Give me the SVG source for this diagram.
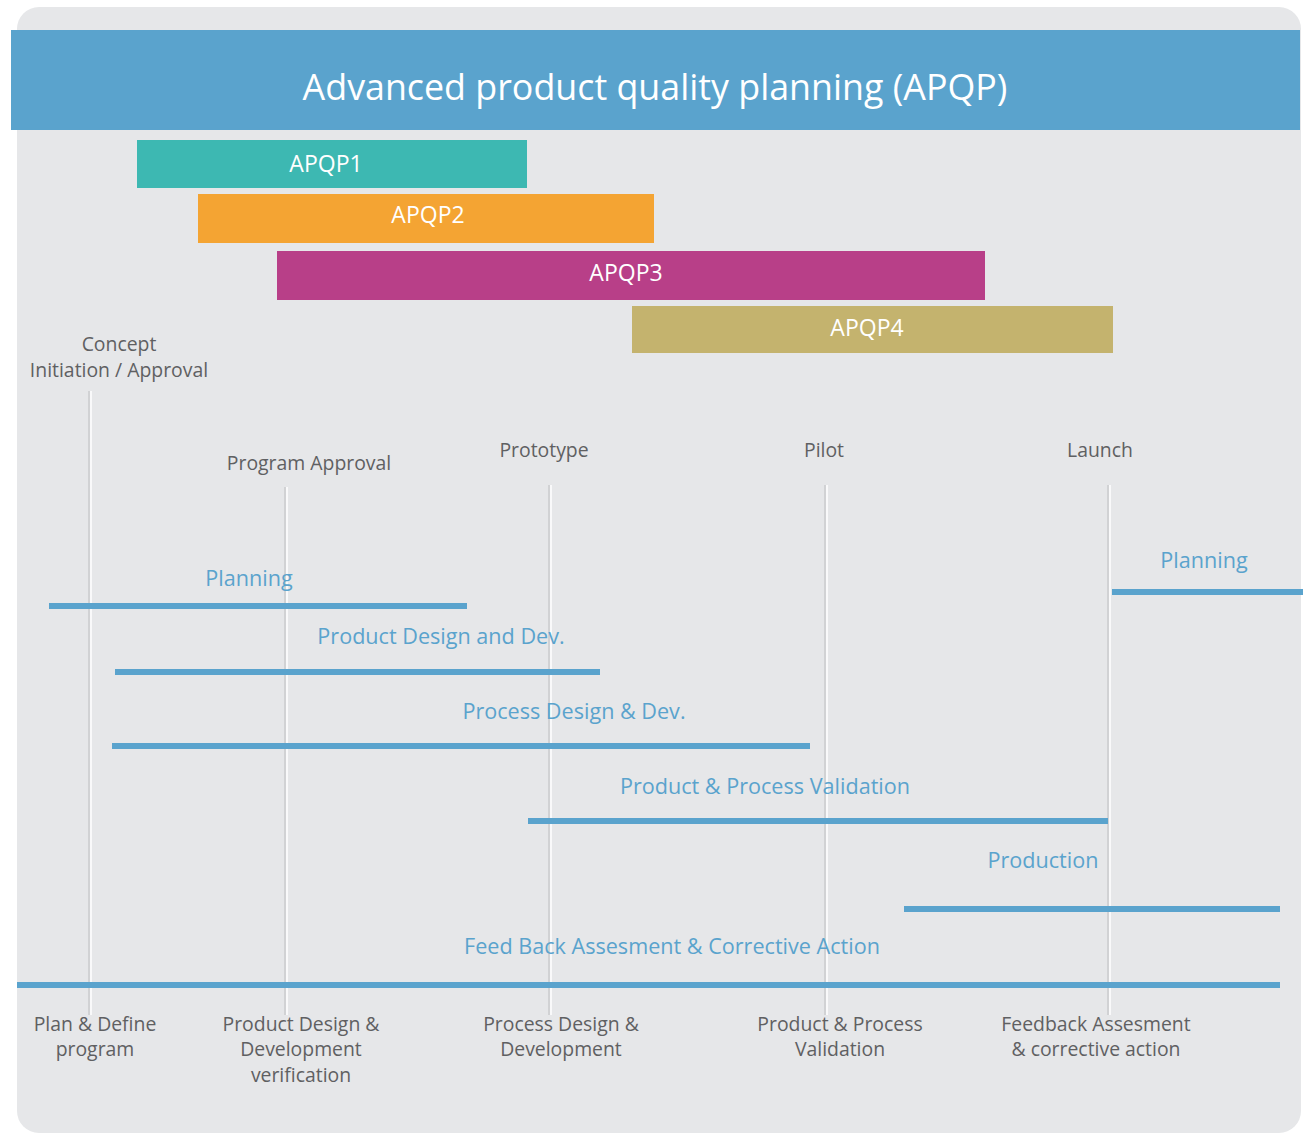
<svg xmlns="http://www.w3.org/2000/svg" width="1303" height="1133" viewBox="0 0 1303 1133">
  <defs>
    <style>
      text { font-family: "Open Sans", "Noto Sans", "Liberation Sans", sans-serif; text-anchor: middle; }
      .title { fill: #ffffff; font-size: 35.8px; }
      .phase { fill: #ffffff; font-size: 23px; }
      .gate { fill: #5f6062; font-size: 19.4px; }
      .stage { fill: #5aa3cd; font-size: 21.6px; }
      .axis { fill: #5f6062; font-size: 19.4px; }
      .tick { stroke: #d1d2d4; stroke-width: 2; }
      .tick-hi { stroke: #ffffff; stroke-width: 1.5; }
      .span { stroke: #5aa3cd; stroke-width: 6; }
    </style>
  </defs>

  <!-- panel -->
  <rect x="17" y="7" width="1284" height="1126" rx="22" fill="#e6e7e9"/>

  <!-- header band -->
  <g id="header">
    <rect x="11" y="30" width="1289" height="100" fill="#5aa3cd"/>
    <text class="title" x="655" y="100">Advanced product quality planning (APQP)</text>
  </g>

  <!-- phase bars -->
  <g id="apqp1">
    <rect x="137" y="140" width="390" height="48" fill="#3db8b2"/>
    <text class="phase" x="326" y="172">APQP1</text>
  </g>
  <g id="apqp2">
    <rect x="198" y="194" width="456" height="49" fill="#f4a433"/>
    <text class="phase" x="428" y="223">APQP2</text>
  </g>
  <g id="apqp3">
    <rect x="277" y="251" width="708" height="49" fill="#b83f88"/>
    <text class="phase" x="626" y="281">APQP3</text>
  </g>
  <g id="apqp4">
    <rect x="632" y="306" width="481" height="47" fill="#c4b36e"/>
    <text class="phase" x="867" y="336">APQP4</text>
  </g>

  <!-- milestone gates -->
  <g id="gate-concept">
    <text class="gate" x="119" y="351">Concept</text>
    <text class="gate" x="119" y="377">Initiation / Approval</text>
  </g>
  <g id="gate-program">
    <text class="gate" x="309" y="470">Program Approval</text>
  </g>
  <g id="gate-prototype">
    <text class="gate" x="544" y="457">Prototype</text>
  </g>
  <g id="gate-pilot">
    <text class="gate" x="824" y="457">Pilot</text>
  </g>
  <g id="gate-launch">
    <text class="gate" x="1100" y="457">Launch</text>
  </g>

  <!-- connectors: gate ticks and stage spans -->
  <g id="connectors">
    <line class="tick" x1="89" y1="391" x2="89" y2="1015"/>
    <line class="tick-hi" x1="91" y1="391" x2="91" y2="1015"/>
    <line class="tick" x1="285" y1="487" x2="285" y2="1015"/>
    <line class="tick-hi" x1="287" y1="487" x2="287" y2="1015"/>
    <line class="tick" x1="549" y1="485" x2="549" y2="1015"/>
    <line class="tick-hi" x1="551" y1="485" x2="551" y2="1015"/>
    <line class="tick" x1="825" y1="485" x2="825" y2="1015"/>
    <line class="tick-hi" x1="827" y1="485" x2="827" y2="1015"/>
    <line class="tick" x1="1108" y1="485" x2="1108" y2="1015"/>
    <line class="tick-hi" x1="1110" y1="485" x2="1110" y2="1015"/>

    <line class="span" x1="49" y1="606" x2="467" y2="606"/>
    <line class="span" x1="115" y1="672" x2="600" y2="672"/>
    <line class="span" x1="112" y1="746" x2="810" y2="746"/>
    <line class="span" x1="528" y1="821" x2="1108" y2="821"/>
    <line class="span" x1="904" y1="909" x2="1280" y2="909"/>
    <line class="span" x1="17" y1="985" x2="1280" y2="985"/>
    <line class="span" x1="1112" y1="592" x2="1303" y2="592"/>
  </g>

  <!-- stage labels -->
  <g id="stage-planning">
    <text class="stage" x="249" y="586">Planning</text>
  </g>
  <g id="stage-product-design">
    <text class="stage" x="441" y="644">Product Design and Dev.</text>
  </g>
  <g id="stage-process-design">
    <text class="stage" x="574" y="719">Process Design &amp; Dev.</text>
  </g>
  <g id="stage-validation">
    <text class="stage" x="765" y="794">Product &amp; Process Validation</text>
  </g>
  <g id="stage-production">
    <text class="stage" x="1043" y="868">Production</text>
  </g>
  <g id="stage-feedback">
    <text class="stage" x="672" y="954">Feed Back Assesment &amp; Corrective Action</text>
  </g>
  <g id="stage-planning-next">
    <text class="stage" x="1204" y="568">Planning</text>
  </g>

  <!-- phase axis labels -->
  <g id="axis-plan">
    <text class="axis" x="95" y="1031">Plan &amp; Define</text>
    <text class="axis" x="95" y="1056">program</text>
  </g>
  <g id="axis-product">
    <text class="axis" x="301" y="1031">Product Design &amp;</text>
    <text class="axis" x="301" y="1056">Development</text>
    <text class="axis" x="301" y="1082">verification</text>
  </g>
  <g id="axis-process">
    <text class="axis" x="561" y="1031">Process Design &amp;</text>
    <text class="axis" x="561" y="1056">Development</text>
  </g>
  <g id="axis-validation">
    <text class="axis" x="840" y="1031">Product &amp; Process</text>
    <text class="axis" x="840" y="1056">Validation</text>
  </g>
  <g id="axis-feedback">
    <text class="axis" x="1096" y="1031">Feedback Assesment</text>
    <text class="axis" x="1096" y="1056">&amp; corrective action</text>
  </g>
</svg>
